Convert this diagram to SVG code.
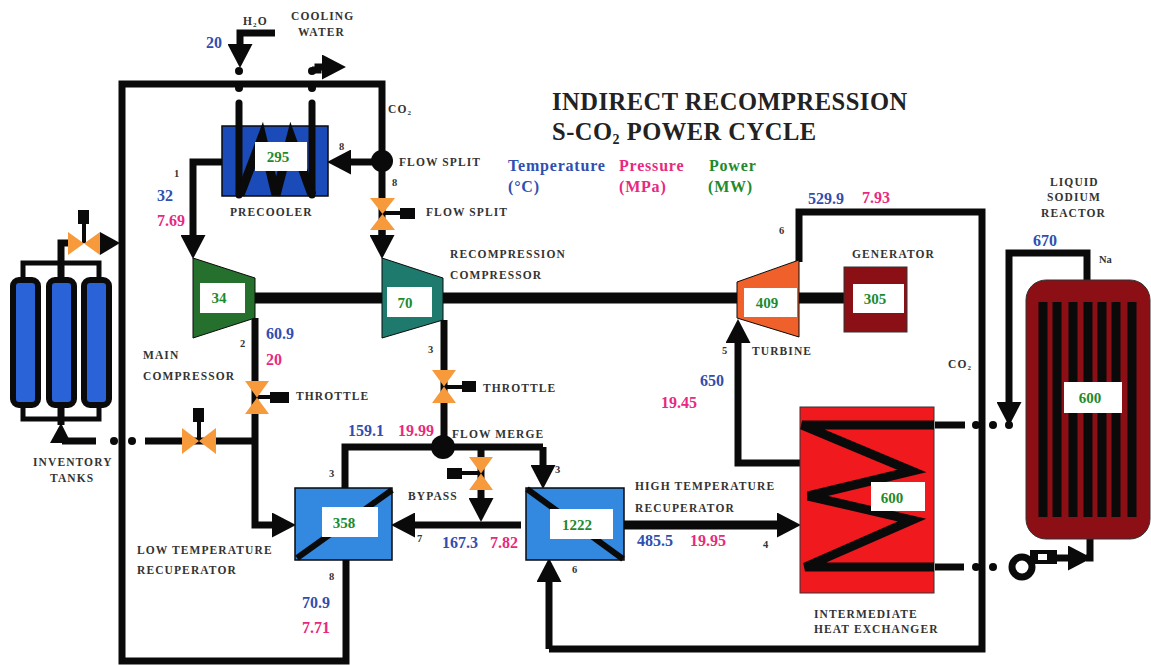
<svg xmlns="http://www.w3.org/2000/svg" width="1151" height="665" viewBox="0 0 1151 665">
<defs>
<marker id="ah" markerUnits="userSpaceOnUse" markerWidth="24" markerHeight="25" viewBox="0 0 23 24" refX="0" refY="12" orient="auto"><path d="M0 0L23 12L0 24Z" fill="#0a0a0a"/></marker>
</defs>
<style>
text{font-family:"Liberation Serif","Times New Roman",serif;font-weight:bold}
.l{font-size:11.5px;fill:#333;letter-spacing:1.1px}
.n{font-size:10.5px;fill:#333}
.b{font-size:16px;fill:#2f4fb0}
.p{font-size:16px;fill:#e8297f}
.h{font-size:16px;letter-spacing:.8px}
.g{font-size:15px;fill:#1e8a2e;text-anchor:middle}
.t{font-size:24.5px;fill:#222;letter-spacing:.5px}
.w{fill:#fff}
.c{fill:none;stroke:#0a0a0a;stroke-width:7;stroke-linejoin:miter}
.a{marker-end:url(#ah)}
.d{fill:#0a0a0a}
.v{fill:#f79a3c}
.z{fill:none;stroke:#0a0a0a;stroke-width:9}
.s{fill:none;stroke:#0a0a0a;stroke-width:4}
</style>
<rect width="1151" height="665" fill="#fff"/>

<g id="connectors">
<path class="c" d="M122 243V84H382V235"/>
<path class="c" d="M122 243V661H346V560"/>
<path class="c a" d="M372 162H351"/>
<path class="c a" d="M222 162H193V235"/>
<path class="c a" d="M275 33H240V44"/>
<path class="c a" d="M312 70H318V67H322"/>
<path class="c" style="marker-end:url(#ah)" d="M382 230V235"/>
<path d="M255 298H737" fill="none" stroke="#0a0a0a" stroke-width="11"/>
<path d="M795 298H845" fill="none" stroke="#0a0a0a" stroke-width="11"/>
<path class="c a" d="M255 318V525H272"/>
<path class="c" d="M444 320V447"/>
<path class="c" d="M253 441H145"/>
<path class="c" d="M96 441H62"/>
<path class="c" d="M345 488V447H543"/>
<path class="c a" d="M543 447V465"/>
<path class="c a" d="M481 447V498"/>
<path class="c a" d="M521 525H415"/>
<path class="c a" d="M624 525H777" style="stroke-width:9"/>
<path class="c a" d="M800 463H738V343"/>
<path class="c" d="M799 262V212H982V649H549"/>
<path class="c a" d="M549 649V582"/>
<path class="c" d="M935 425H965"/>
<path class="c" d="M935 567H964"/>
<path class="c a" d="M1087 280V253H1009V402"/>
<path class="c a" d="M1055 558H1068"/>
<path class="c" d="M1090 539V558H1086"/>
<path class="c" d="M61 277V243H68"/>
<path class="s" d="M23 277V263H99V277" style="stroke-width:5"/>
<path class="s" d="M23 407V419H99V407" style="stroke-width:5"/>
<path class="c" d="M61 407V425"/>
<path class="d" d="M50 443L61 423L71 443Z"/>
<path class="d" d="M100 232L120 243L100 255Z"/>
<g class="d">
<circle cx="239" cy="71" r="4"/><circle cx="312" cy="71" r="4"/>
<circle cx="239" cy="88" r="4"/><circle cx="312" cy="88" r="4"/>
<circle cx="114" cy="441" r="4"/><circle cx="132" cy="441" r="4"/>
<circle cx="976" cy="425" r="4"/><circle cx="993" cy="425" r="4"/><circle cx="1009" cy="425" r="4"/>
<circle cx="976" cy="567" r="4"/><circle cx="993" cy="567" r="4"/>
<circle cx="382" cy="161" r="11"/>
<circle cx="443" cy="447" r="12"/>
</g>
</g>

<g id="precooler">
<rect x="222" y="126" width="106" height="70" fill="#1a4bb8" stroke="#0a0a0a" stroke-width="1.5"/>
<path class="c" d="M239 103V195M312 103V195" stroke-linecap="round"/>
<path class="z" d="M240 195L262 137L276 195L291 137L312 195"/>
<rect class="w" x="255" y="142" width="52" height="29"/>
<text class="g" x="278" y="162">295</text>
</g>
<g id="main-compressor">
<path d="M193 258L255 278V318L193 338Z" fill="#25702d" stroke="#0a0a0a"/>
<rect class="w" x="200" y="283" width="45" height="30"/>
<text class="g" x="219" y="303">34</text>
</g>
<g id="recompression-compressor">
<path d="M382 258L443 278V320L382 338Z" fill="#1f7a6e" stroke="#0a0a0a"/>
<rect class="w" x="387" y="287" width="45" height="30"/>
<text class="g" x="405" y="308">70</text>
</g>
<g id="turbine">
<path d="M737 282L799 260V337L737 318Z" fill="#f0602a" stroke="#0a0a0a"/>
<rect class="w" x="744" y="288" width="53" height="29"/>
<text class="g" x="767" y="308">409</text>
</g>
<g id="generator">
<rect x="844" y="267" width="63" height="65" fill="#8b1015" stroke="#333"/>
<rect class="w" x="853" y="284" width="51" height="29"/>
<text class="g" x="875" y="304">305</text>
</g>
<g id="ltr">
<rect x="295" y="488" width="97" height="72" fill="#3388e0" stroke="#0a0a0a" stroke-width="1.5"/>
<path d="M297 558L392 490" stroke="#0a0a0a" stroke-width="6"/>
<rect class="w" x="322" y="507" width="56" height="30"/>
<text class="g" x="344" y="528">358</text>
</g>
<g id="htr">
<rect x="526" y="488" width="98" height="72" fill="#3388e0" stroke="#0a0a0a" stroke-width="1.5"/>
<path d="M527 489L623 559" stroke="#0a0a0a" stroke-width="6"/>
<rect class="w" x="550" y="509" width="63" height="30"/>
<text class="g" x="577" y="530">1222</text>
</g>
<g id="ihx">
<rect x="800" y="407" width="134" height="186" fill="#f0191e" stroke="#333"/>
<path class="z" d="M934 425H802L912 471L808 496L912 520L805 567H934"/>
<rect class="w" x="871" y="482" width="54" height="29"/>
<text class="g" x="892" y="503">600</text>
</g>
<g id="reactor">
<rect x="1026" y="280" width="124" height="259" rx="20" fill="#8b0f14" stroke="#333"/>
<path d="M1043 302V517M1057 302V517M1073 302V517M1088 302V517M1102 302V517M1116 302V517M1132 302V517" stroke="#0a0a0a" stroke-width="9"/>
<rect class="w" x="1064" y="382" width="58" height="31"/>
<text class="g" x="1090" y="403">600</text>
</g>
<g id="pump">
<rect class="d" x="1030" y="550" width="27" height="14"/>
<circle cx="1022" cy="567" r="10" fill="#fff" stroke="#0a0a0a" stroke-width="7"/>
<rect class="w" x="1038" y="554" width="9" height="6"/>
</g>
<g id="tanks">
<g fill="#2a62d8" stroke="#0a0a0a" stroke-width="6">
<rect x="13" y="280" width="25" height="125" rx="6"/>
<rect x="49" y="280" width="25" height="125" rx="6"/>
<rect x="84" y="280" width="25" height="125" rx="6"/>
</g>
</g>
<g id="valve-tank-top">
<path class="s" d="M84 243V222"/><rect class="d" x="78" y="210" width="11" height="14"/>
<path class="v" d="M68 232L100 255V232L68 255Z"/>
</g>
<g id="valve-tank-bottom">
<path class="s" d="M199 441V420"/><rect class="d" x="193" y="408" width="11" height="14"/>
<path class="v" d="M182 428L216 454V428L182 454Z"/>
</g>
<g id="valve-flow-split">
<path class="s" d="M382 213H402"/><rect class="d" x="400" y="208" width="15" height="11"/>
<path class="v" d="M370 198H395L370 230H395Z"/>
</g>
<g id="valve-throttle-main">
<path class="s" d="M256 397H272"/><rect class="d" x="270" y="392" width="19" height="11"/>
<path class="v" d="M245 381H269L245 414H269Z"/>
</g>
<g id="valve-throttle-recomp">
<path class="s" d="M444 387H464"/><rect class="d" x="462" y="381" width="14" height="11"/>
<path class="v" d="M432 370H456L432 403H456Z"/>
</g>
<g id="valve-bypass">
<path class="s" d="M481 473H460"/><rect class="d" x="447" y="468" width="15" height="11"/>
<path class="v" d="M469 457H493L469 490H493Z"/>
</g>

<g id="labels">
<text class="t" x="552" y="110">INDIRECT RECOMPRESSION</text>
<text class="t" x="552" y="140">S-CO<tspan font-size="14" dy="4">2</tspan><tspan dy="-4"> POWER CYCLE</tspan></text>
<text class="b h" x="508" y="171">Temperature</text><text class="b h" x="508" y="192">(°C)</text>
<text class="p h" x="619" y="171">Pressure</text><text class="p h" x="619" y="192">(MPa)</text>
<text class="h" fill="#1e8a2e" x="709" y="171">Power</text><text class="h" fill="#1e8a2e" x="708" y="192">(MW)</text>
<text class="l" x="243" y="25">H<tspan font-size="7" dy="2">2</tspan><tspan dy="-2">O</tspan></text>
<text class="l" x="291" y="20">COOLING</text><text class="l" x="298" y="36">WATER</text>
<text class="l" x="388" y="113">CO<tspan font-size="7" dy="2">2</tspan></text>
<text class="l" x="399" y="166">FLOW SPLIT</text>
<text class="l" x="426" y="216">FLOW SPLIT</text>
<text class="l" x="230" y="216">PRECOOLER</text>
<text class="l" x="450" y="258">RECOMPRESSION</text>
<text class="l" x="450" y="279">COMPRESSOR</text>
<text class="l" x="143" y="359">MAIN</text><text class="l" x="143" y="380">COMPRESSOR</text>
<text class="l" x="296" y="400">THROTTLE</text>
<text class="l" x="483" y="392">THROTTLE</text>
<text class="l" x="452" y="438">FLOW MERGE</text>
<text class="l" x="408" y="500">BYPASS</text>
<text class="l" x="33" y="466">INVENTORY</text><text class="l" x="50" y="482">TANKS</text>
<text class="l" x="137" y="554">LOW TEMPERATURE</text><text class="l" x="137" y="574">RECUPERATOR</text>
<text class="l" x="635" y="490">HIGH TEMPERATURE</text><text class="l" x="635" y="512">RECUPERATOR</text>
<text class="l" x="814" y="618">INTERMEDIATE</text><text class="l" x="814" y="633">HEAT EXCHANGER</text>
<text class="l" x="752" y="355">TURBINE</text>
<text class="l" x="852" y="258">GENERATOR</text>
<text class="l" x="948" y="368">CO<tspan font-size="7" dy="2">2</tspan></text>
<text class="l" x="1050" y="186">LIQUID</text><text class="l" x="1047" y="201">SODIUM</text><text class="l" x="1041" y="217">REACTOR</text>
<text class="l" x="1099" y="263" style="font-size:10.5px;letter-spacing:0">Na</text>
<text class="n" x="174" y="177">1</text><text class="n" x="339" y="150">8</text><text class="n" x="392" y="186">8</text>
<text class="n" x="240" y="347">2</text><text class="n" x="428" y="353">3</text><text class="n" x="329" y="477">3</text>
<text class="n" x="555" y="473">3</text><text class="n" x="417" y="542">7</text><text class="n" x="329" y="580">8</text>
<text class="n" x="572" y="573">6</text><text class="n" x="763" y="548">4</text><text class="n" x="722" y="354">5</text><text class="n" x="779" y="234">6</text>
<text class="b" x="206" y="48">20</text>
<text class="b" x="157" y="201">32</text><text class="p" x="157" y="226">7.69</text>
<text class="b" x="266" y="339">60.9</text><text class="p" x="266" y="365">20</text>
<text class="b" x="348" y="436">159.1</text><text class="p" x="398" y="436">19.99</text>
<text class="b" x="442" y="548">167.3</text><text class="p" x="490" y="548">7.82</text>
<text class="b" x="302" y="608">70.9</text><text class="p" x="302" y="633">7.71</text>
<text class="b" x="637" y="546">485.5</text><text class="p" x="690" y="546">19.95</text>
<text class="b" x="700" y="386">650</text><text class="p" x="661" y="408">19.45</text>
<text class="b" x="808" y="204">529.9</text><text class="p" x="862" y="203">7.93</text>
<text class="b" x="1033" y="246">670</text>
</g>
</svg>
